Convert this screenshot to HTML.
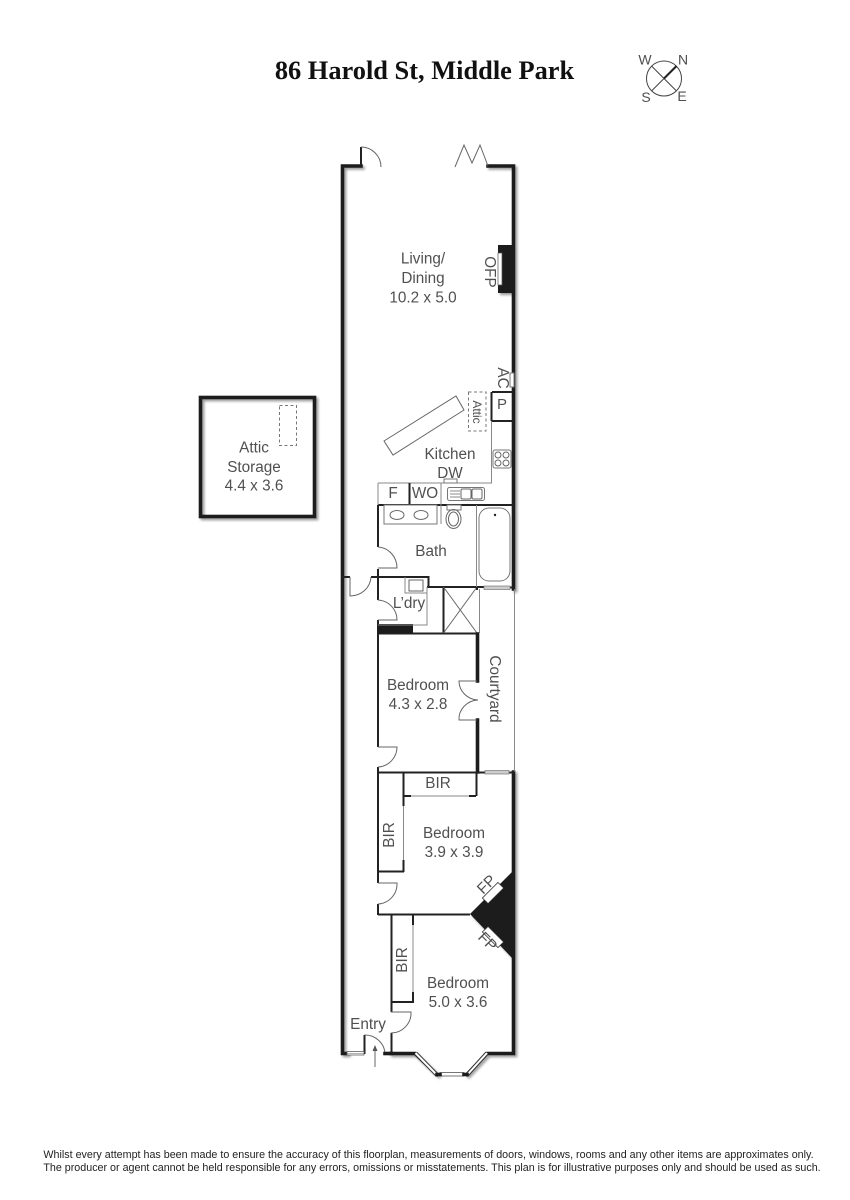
<!DOCTYPE html>
<html><head><meta charset="utf-8"><title>86 Harold St, Middle Park</title>
<style>
html,body{margin:0;padding:0;background:#fff;width:850px;height:1200px;overflow:hidden}
svg{display:block}
text{font-family:"Liberation Sans",sans-serif;font-size:15.3px;fill:#505050;text-anchor:middle}
.w{fill:none;stroke:#1c1c1c;stroke-width:3.6;stroke-linecap:square}
.m{fill:none;stroke:#222;stroke-width:2;stroke-linecap:butt}
.t{fill:none;stroke:#666;stroke-width:1}
.g{fill:none;stroke:#888;stroke-width:1}
.f{fill:#fff;stroke:#777;stroke-width:1}
.d{fill:none;stroke:#777;stroke-width:1;stroke-dasharray:3 2.5}
</style></head><body>
<svg width="850" height="1200" viewBox="0 0 850 1200" xmlns="http://www.w3.org/2000/svg">
<defs><filter id="s" x="-10%" y="-5%" width="120%" height="110%"><feDropShadow dx="2" dy="2" stdDeviation="1.3" flood-color="#000" flood-opacity=".4"/></filter></defs>

<text x="424.500" y="79" style="font-family:'Liberation Serif',serif;font-weight:bold;font-size:26.4px;fill:#111">86 Harold St, Middle Park</text>

<!-- compass -->
<g>
<circle cx="664" cy="78.500" r="17.500" fill="#fff" stroke="#444" stroke-width="1"/>
<path d="M651.500 66L676.500 91M651.500 91L664 78.500" stroke="#444" stroke-width="1" fill="none"/>
<path d="M664 78.500L676.500 66" stroke="#222" stroke-width="2" fill="none"/>
<text x="645" y="64.500" style="font-size:14px">W</text><text x="683" y="64.500" style="font-size:14px">N</text>
<text x="646" y="102" style="font-size:14px">S</text><text x="682" y="101" style="font-size:14px">E</text>
</g>

<!-- attic -->
<rect x="200.500" y="397.500" width="114" height="119" fill="#fff" class="w" filter="url(#s)"/>
<rect x="279.500" y="405.500" width="17" height="40" class="d"/>
<text x="254" y="452.500">Attic</text><text x="254" y="472">Storage</text><text x="254" y="490.500">4.4 x 3.6</text>

<!-- main thick walls -->
<g filter="url(#s)">
<path class="w" d="M361 166H342.500V1053.500H347M488 166H513.500V589M513.500 772V1053.500H487L467 1074.500M437 1074.500L415 1053.500H391"/>
<path d="M498 245H513V293H498Z" fill="#1c1c1c"/>
<path d="M470 914L513 871V959Z" fill="#1c1c1c"/>
</g>
<path d="M498 253H502V285H498Z" fill="#fff" stroke="#555" stroke-width=".7"/>

<!-- Entrance top -->
<path class="m" d="M361 147V166"/>
<path class="t" d="M361 147A20 20 0 0 1 381 167"/>
<path class="t" d="M455 167L464 145L472 163L480 145L488 166"/>

<!-- kitchen -->
<path class="m" d="M492 392H513M492 421H513M491.500 392V421"/>
<path class="g" d="M491.500 421V483H378"/>
<rect x="510" y="373" width="4" height="14" class="f"/>
<path class="t" d="M384 441L456 396L464 410L393 455Z"/>
<rect x="468.500" y="392" width="17.500" height="39" class="d"/>
<rect x="493" y="450" width="18" height="18" rx="2" class="f"/>
<circle cx="498" cy="455" r="3" class="t"/><circle cx="506" cy="455" r="3" class="t"/>
<circle cx="498" cy="463" r="3" class="t"/><circle cx="506" cy="463" r="3" class="t"/>
<rect x="444" y="479" width="13" height="4" class="f"/>
<path class="m" d="M378 505H513M409.500 483V505"/>
<path class="g" d="M378 483V505M441 483V505"/>
<rect x="447.500" y="487.500" width="37" height="13" rx="2" class="f"/>
<rect x="461" y="489" width="10" height="10" rx="1.500" class="t"/>
<rect x="472" y="489" width="10" height="10" rx="1.500" class="t"/>
<path class="g" d="M450 491H460M450 494H460M450 497H460"/>

<!-- bath -->
<path class="m" d="M378 505V547M378 569V577M342 577H350M371 577H428.500V587M427 587H477M443.500 587V633M378 577V600M378 620V634M378 633.500H477"/>
<rect x="384" y="505" width="53" height="19" class="f"/>
<ellipse cx="397" cy="515" rx="7" ry="4.500" class="t"/><ellipse cx="421" cy="515" rx="7" ry="4.500" class="t"/>
<rect x="447" y="505" width="14" height="5" class="f"/>
<ellipse cx="453.500" cy="519" rx="7.500" ry="9.500" class="t"/><ellipse cx="453.500" cy="519" rx="5" ry="7" class="t"/>
<path class="g" d="M441 505V524M476.500 505V587"/>
<rect x="479" y="508" width="31" height="73" rx="10" class="f"/>
<circle cx="495" cy="515" r="1.200" fill="#222"/>
<path class="t" d="M378 547A20 21 0 0 1 397 568H378"/>
<path class="t" d="M350 577V596A21 20 0 0 0 371 577"/>
<path class="t" d="M378 600A20 20 0 0 1 397 620H378"/>
<rect x="378" y="624" width="35" height="9" fill="#1c1c1c"/>
<path class="g" d="M405 577V593H427M427 587V625H378"/>
<rect x="409" y="580" width="14" height="11" class="t"/>
<path class="t" d="M443.500 633L477 587M443.500 587L477 633"/>
<path class="m" d="M477 587V590M477 587H484M510 587.500H514"/>
<rect x="484" y="586" width="26" height="3.500" fill="#ccc" stroke="#777" stroke-width=".7"/>
<path class="g" d="M479.500 589V633"/>

<!-- courtyard -->
<path class="g" d="M514.500 589V772"/>
<path class="w" d="M477.500 634V681M477.500 720V772"/>
<path class="t" d="M477 681H459A20 19 0 0 0 478 700A20 19 0 0 0 459 720H477"/>

<!-- bedroom 4.3 -->
<path class="m" d="M378 634V747M378 767V883M378 904V915"/>
<path class="t" d="M378 747H397A20 20 0 0 1 378 767"/>
<path class="m" d="M377 772.500H485M509 772.500H515"/>
<rect x="485" y="770.500" width="24" height="3.500" fill="#ccc" stroke="#777" stroke-width=".7"/>

<!-- BIR -->
<path class="m" d="M403.500 772V796M403 796H411M469 796H476M476.500 772V796"/>
<path class="g" d="M411 796H469"/>
<path class="m" d="M403.500 796V806M403.500 860V872M378 871.500H404"/>
<path class="g" d="M403.500 806V860"/>

<path class="t" d="M378 883H397A20 20 0 0 1 378 904"/>
<path class="m" d="M378 914.500H470"/>
<g transform="translate(493,893) rotate(-45)"><rect x="-11" y="-4" width="22" height="8" fill="#fff" stroke="#333" stroke-width=".8"/></g>
<g transform="translate(493,937) rotate(45)"><rect x="-11" y="-4" width="22" height="8" fill="#fff" stroke="#333" stroke-width=".8"/></g>

<!-- BIR 2 -->
<path class="m" d="M391.500 915V1012M391.500 1033V1053M391 1002H414M413 915V925M413 992V1003"/>
<path class="g" d="M413 925V992"/>
<path class="t" d="M391 1012H411A20 20 0 0 1 391 1033"/>

<!-- entry -->
<path class="m" d="M364.500 1035V1054"/>
<path class="t" d="M364.500 1035A20 20 0 0 1 385 1053"/>
<path class="w" d="M385 1053.500H391"/>
<path d="M347 1051.500H364V1055H347Z" fill="#fff" stroke="#555" stroke-width=".8"/>
<path d="M347 1053.300H364" stroke="#888" stroke-width=".7"/>
<path class="t" d="M375 1067V1047"/>
<path d="M375 1045L372.500 1051H377.500Z" fill="#555"/>

<!-- bay windows -->
<path d="M415.500 1053L437 1075" stroke="#333" stroke-width="4"/>
<path d="M415.500 1053L437 1075" stroke="#fff" stroke-width="2"/>
<path d="M487 1053L467 1075" stroke="#333" stroke-width="4"/>
<path d="M487 1053L467 1075" stroke="#fff" stroke-width="2"/>
<rect x="440" y="1072.500" width="24" height="3.500" fill="#fff" stroke="#555" stroke-width=".8"/>
<path class="w" d="M437 1074.500H440M464 1074.500H467"/>

<!-- labels -->
<text x="423" y="263.500">Living/</text><text x="423" y="283">Dining</text><text x="423" y="302.500">10.2 x 5.0</text>
<text transform="translate(485,272) rotate(90)">OFP</text>
<text transform="translate(498,378) rotate(90)">AC</text>
<text x="502" y="409" style="font-size:15px">P</text>
<text transform="translate(473,412) rotate(90)" style="font-size:12px">Attic</text>
<text x="450" y="459">Kitchen</text><text x="450" y="478">DW</text>
<text x="393" y="498">F</text><text x="425" y="498">WO</text>
<text x="431" y="556">Bath</text><text x="409" y="608">L’dry</text>
<text x="418" y="690">Bedroom</text><text x="418" y="709">4.3 x 2.8</text>
<text transform="translate(490,689) rotate(90)">Courtyard</text>
<text x="438" y="788">BIR</text>
<text transform="translate(394,835) rotate(-90)">BIR</text>
<text x="454" y="838">Bedroom</text><text x="454" y="857">3.9 x 3.9</text>
<text transform="translate(490,888) rotate(-45)">FP</text>
<text transform="translate(484,945) rotate(45)">FP</text>
<text transform="translate(407,960) rotate(-90)">BIR</text>
<text x="458" y="988">Bedroom</text><text x="458" y="1007">5.0 x 3.6</text>
<text x="368" y="1029">Entry</text>

<text x="428.500" y="1158" style="font-size:10.72px;fill:#222">Whilst every attempt has been made to ensure the accuracy of this floorplan, measurements of doors, windows, rooms and any other items are approximates only.</text>
<text x="432" y="1171" style="font-size:10.72px;fill:#222">The producer or agent cannot be held responsible for any errors, omissions or misstatements. This plan is for illustrative purposes only and should be used as such.</text>
</svg>
</body></html>
